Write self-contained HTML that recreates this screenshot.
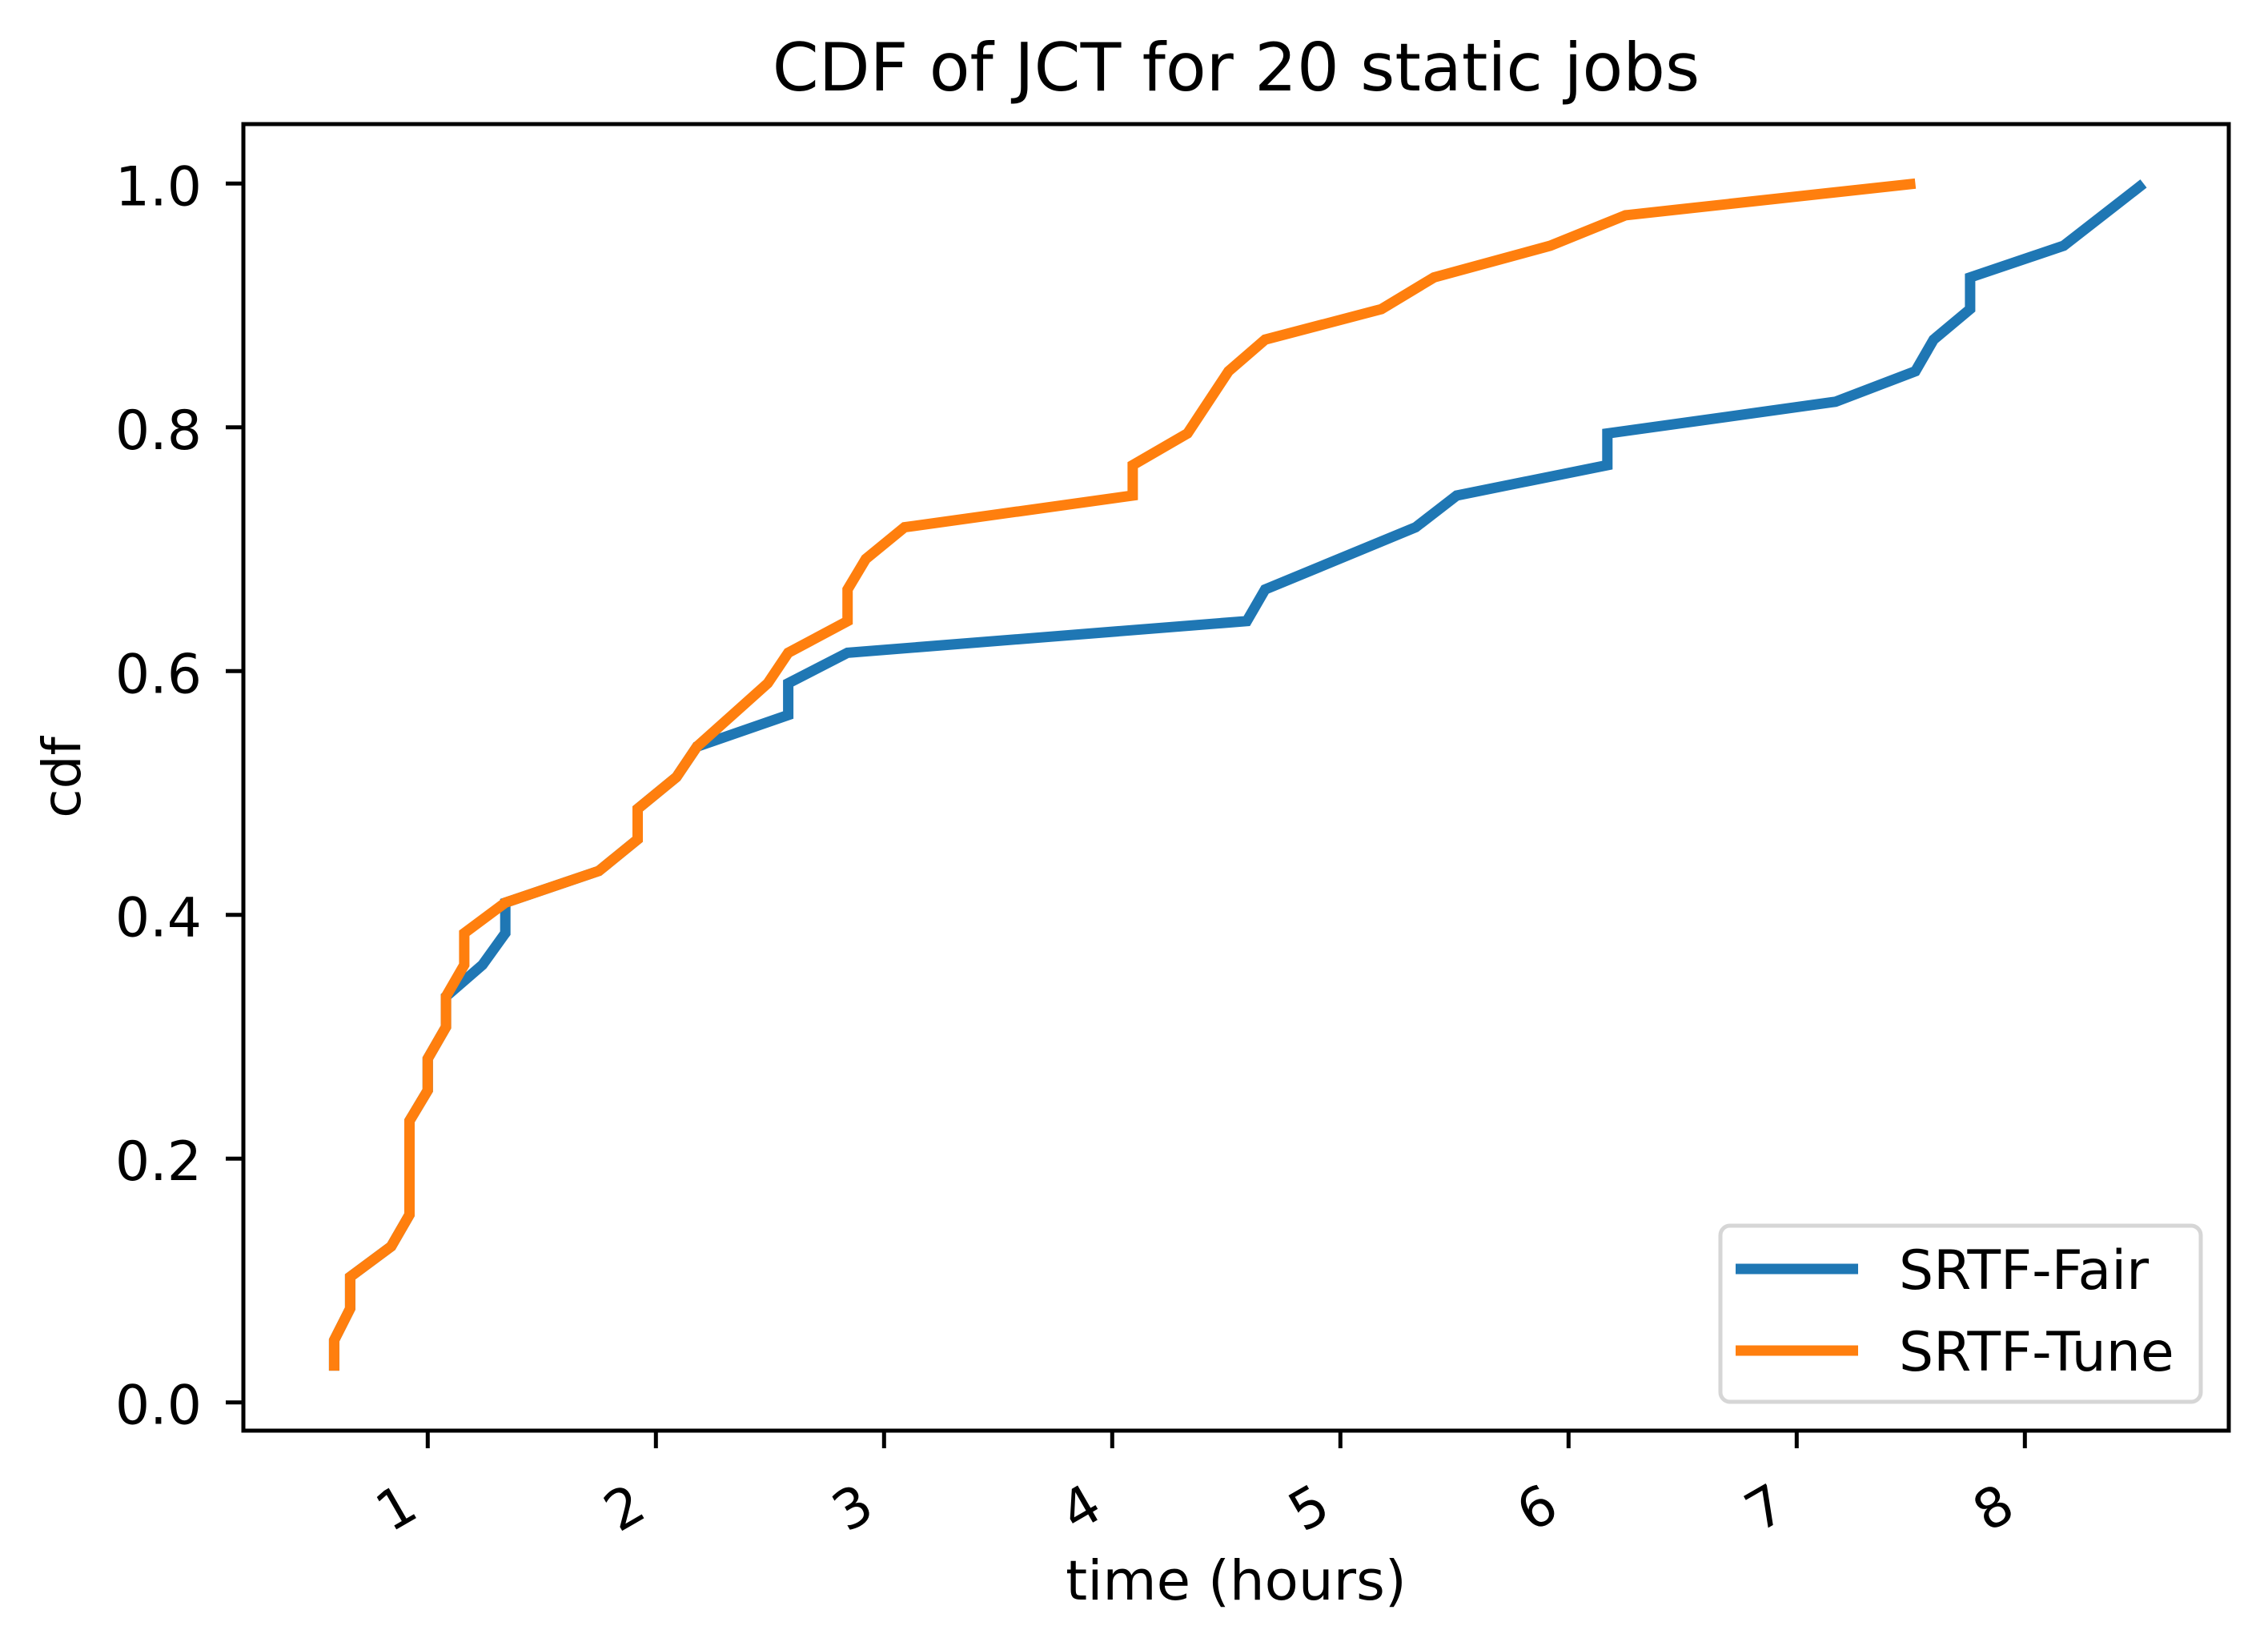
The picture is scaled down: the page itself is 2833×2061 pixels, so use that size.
<!DOCTYPE html>
<html><head><meta charset="utf-8"><style>
html,body{margin:0;padding:0;background:#fff}
svg{display:block}
text{font-family:"DejaVu Sans","Liberation Sans",sans-serif;fill:#000}
</style></head><body>
<svg id="chart" width="2833" height="2061" viewBox="0 0 2833 2061" xmlns="http://www.w3.org/2000/svg">
<rect width="2833" height="2061" fill="#fff"/>
<text x="1544" y="113" font-size="83" text-anchor="middle">CDF of JCT for 20 static jobs</text>
<g id="series"></g>
<g id="axes"></g>
<text x="1544" y="1998" font-size="69" text-anchor="middle">time (hours)</text>
<text x="100" y="971" font-size="66" text-anchor="middle" transform="rotate(-90 100 971)">cdf</text>
<g>
<rect x="2149" y="1531" width="600" height="220" rx="12" fill="#fff" fill-opacity="0.8" stroke="#d6d6d6" stroke-width="5"/>
<line x1="2168" y1="1585" x2="2321" y2="1585" stroke="#1f77b4" stroke-width="13"/>
<text x="2372" y="1610" font-size="68">SRTF-Fair</text>
<line x1="2168" y1="1687" x2="2321" y2="1687" stroke="#ff7f0e" stroke-width="13"/>
<text x="2372" y="1712" font-size="68">SRTF-Tune</text>
</g>
</svg>
<script>
const xTicks = [1,2,3,4,5,6,7,8];
const xTickLabels = ["1","2","3","4","5","6","7","8"];
const yTicks = [0,0.2,0.4,0.6,0.8,1.0];
const yTickLabels = ["0.0","0.2","0.4","0.6","0.8","1.0"];
const fairX = [0.59,0.59,0.66,0.66,0.84,0.92,0.92,1.0,1.0,1.08,1.08,1.24,1.34,1.34,1.75,1.92,1.92,2.09,2.18,2.58,2.58,2.84,4.59,4.67,5.33,5.51,6.17,6.17,7.17,7.52,7.60,7.76,7.76,8.17,8.52];
const fairY = [0.026,0.051,0.077,0.103,0.128,0.154,0.231,0.256,0.282,0.308,0.333,0.359,0.385,0.410,0.436,0.462,0.487,0.513,0.538,0.564,0.590,0.615,0.641,0.667,0.718,0.744,0.769,0.795,0.821,0.846,0.872,0.897,0.923,0.949,1.0];
const tuneX = [0.59,0.59,0.66,0.66,0.84,0.92,0.92,1.0,1.0,1.08,1.08,1.16,1.16,1.34,1.75,1.92,1.92,2.09,2.18,2.49,2.58,2.84,2.84,2.92,3.09,4.09,4.09,4.33,4.51,4.67,5.18,5.41,5.92,6.25,7.52];
const tuneY = [0.026,0.051,0.077,0.103,0.128,0.154,0.231,0.256,0.282,0.308,0.333,0.359,0.385,0.410,0.436,0.462,0.487,0.513,0.538,0.590,0.615,0.641,0.667,0.692,0.718,0.744,0.769,0.795,0.846,0.872,0.897,0.923,0.949,0.974,1.0];

const NS = "http://www.w3.org/2000/svg";
const L = 304, R = 2784, T = 155, B = 1787;
function xs(v){ return 534.3 + 285 * (v - 1); }
function ys(v){ return 1751.7 - 1522.4 * v; }

const series = document.getElementById('series');
function drawLine(X, Y, color, name){
  const p = document.createElementNS(NS, 'polyline');
  
  
  p.setAttribute('points', X.map((x,i)=>xs(x).toFixed(1)+','+ys(Y[i]).toFixed(1)).join(' '));
  p.setAttribute('fill', 'none');
  p.setAttribute('stroke', color);
  p.setAttribute('stroke-width', '13');
  p.setAttribute('stroke-linejoin', 'miter');
  series.appendChild(p);
}
drawLine(fairX, fairY, '#1f77b4', 'line-srtf-fair');
drawLine(tuneX, tuneY, '#ff7f0e', 'line-srtf-tune');

const axes = document.getElementById('axes');
const frame = document.createElementNS(NS, 'rect');


frame.setAttribute('x', L); frame.setAttribute('y', T);
frame.setAttribute('width', R - L); frame.setAttribute('height', B - T);
frame.setAttribute('fill', 'none'); frame.setAttribute('stroke', '#000'); frame.setAttribute('stroke-width', '5');
axes.appendChild(frame);

xTicks.forEach((v,i)=>{
  const x = xs(v);
  const t = document.createElementNS(NS, 'line');
  
  
  t.setAttribute('x1', x); t.setAttribute('x2', x); t.setAttribute('y1', B); t.setAttribute('y2', B + 22);
  t.setAttribute('stroke', '#000'); t.setAttribute('stroke-width', '5');
  axes.appendChild(t);
  const lb = document.createElementNS(NS, 'text');
  
  
  const ax = x - 9, ay = 1893;
  lb.setAttribute('x', ax); lb.setAttribute('y', ay);
  lb.setAttribute('font-size', '68');
  lb.setAttribute('text-anchor', 'end');
  lb.setAttribute('transform', 'rotate(-30 ' + ax + ' ' + ay + ')');
  lb.textContent = xTickLabels[i];
  axes.appendChild(lb);
});
yTicks.forEach((v,i)=>{
  const y = ys(v);
  const t = document.createElementNS(NS, 'line');
  
  
  t.setAttribute('x1', L - 22); t.setAttribute('x2', L); t.setAttribute('y1', y); t.setAttribute('y2', y);
  t.setAttribute('stroke', '#000'); t.setAttribute('stroke-width', '5');
  axes.appendChild(t);
  const lb = document.createElementNS(NS, 'text');
  
  
  lb.setAttribute('x', 252); lb.setAttribute('y', y + 27);
  lb.setAttribute('font-size', '68');
  lb.setAttribute('text-anchor', 'end');
  lb.textContent = yTickLabels[i];
  axes.appendChild(lb);
});
</script>
</body></html>
